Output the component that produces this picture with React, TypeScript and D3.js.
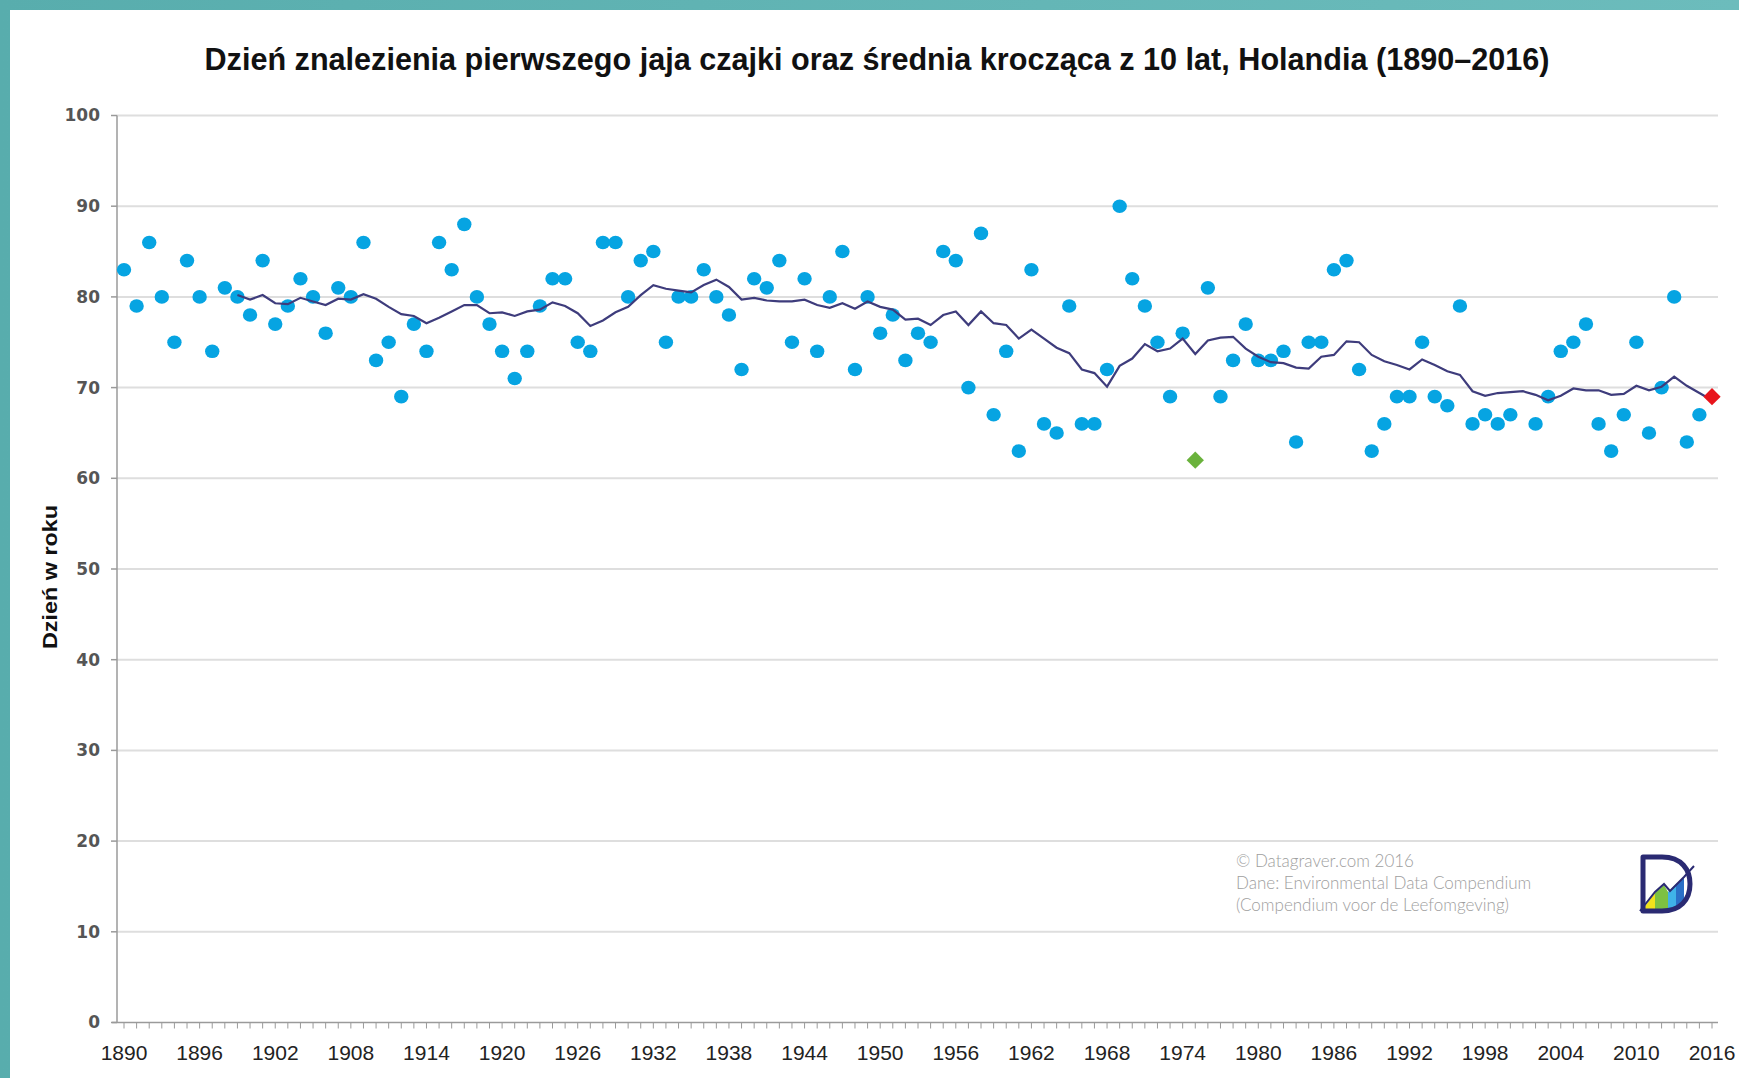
import React from "react";
import * as d3 from "d3";

const TITLE = "Dzień znalezienia pierwszego jaja czajki oraz średnia krocząca z 10 lat, Holandia (1890–2016)";
const Y_LABEL = "Dzień w roku";
const CREDITS = [
  "© Datagraver.com 2016",
  "Dane: Environmental Data Compendium",
  "(Compendium voor de Leefomgeving)",
];

const FIRST_YEAR = 1890;
// Day of year when first lapwing egg was found, 1890..2016 (null = no record)
const eggDay: (number | null)[] = [
  83, 79, 86, 80, 75, 84, 80, 74, 81, 80, // 1890-1899
  78, 84, 77, 79, 82, 80, 76, 81, 80, 86, // 1900-1909
  73, 75, 69, 77, 74, 86, 83, 88, 80, 77, // 1910-1919
  74, 71, 74, 79, 82, 82, 75, 74, 86, 86, // 1920-1929
  80, 84, 85, 75, 80, 80, 83, 80, 78, 72, // 1930-1939
  82, 81, 84, 75, 82, 74, 80, 85, 72, 80, // 1940-1949
  76, 78, 73, 76, 75, 85, 84, 70, 87, 67, // 1950-1959
  74, 63, 83, 66, 65, 79, 66, 66, 72, 90, // 1960-1969
  82, 79, 75, 69, 76, 62, 81, 69, 73, 77, // 1970-1979
  73, 73, 74, 64, 75, 75, 83, 84, 72, 63, // 1980-1989
  66, 69, 69, 75, 69, 68, 79, 66, 67, 66, // 1990-1999
  67, null, 66, 69, 74, 75, 77, 66, 63, 67, // 2000-2009
  75, 65, 70, 80, 64, 67, 69, // 2010-2016
];
const EARLIEST_YEAR = 1975; // green diamond
const LATEST_YEAR = 2016; // red diamond

const AVG_FIRST_YEAR = 1899;
// 10-year moving average, 1899..2016
const movingAvg: number[] = [
  80.2,
  79.7, 80.2, 79.3, 79.2, 79.9, 79.5, 79.1, 79.8, 79.7, 80.3,
  79.8, 78.9, 78.1, 77.9, 77.1, 77.7, 78.4, 79.1, 79.1, 78.2,
  78.3, 77.9, 78.4, 78.6, 79.4, 79.0, 78.2, 76.8, 77.4, 78.3,
  78.9, 80.2, 81.3, 80.9, 80.7, 80.5, 81.3, 81.9, 81.1, 79.7,
  79.9, 79.6, 79.5, 79.5, 79.7, 79.1, 78.8, 79.3, 78.7, 79.5,
  78.9, 78.6, 77.5, 77.6, 76.9, 78.0, 78.4, 76.9, 78.4, 77.1,
  76.9, 75.4, 76.4, 75.4, 74.4, 73.8, 72.0, 71.6, 70.1, 72.4,
  73.2, 74.8, 74.0, 74.3, 75.4, 73.7, 75.2, 75.5, 75.6, 74.3,
  73.4, 72.8, 72.7, 72.2, 72.1, 73.4, 73.6, 75.1, 75.0, 73.6,
  72.9, 72.5, 72.0, 73.1, 72.5, 71.8, 71.4, 69.6, 69.1, 69.4,
  69.5, 69.6, 69.2, 68.6, 69.1, 69.9, 69.7, 69.7, 69.2, 69.3,
  70.2, 69.7, 70.1, 71.2, 70.2, 69.4, 68.6,
];

const yTicks = [0, 10, 20, 30, 40, 50, 60, 70, 80, 90, 100];
const xTickLabels = [1890, 1896, 1902, 1908, 1914, 1920, 1926, 1932, 1938, 1944, 1950, 1956, 1962, 1968, 1974, 1980, 1986, 1992, 1998, 2004, 2010, 2016];

const W = 1739;
const H = 1078;

export default function App() {
  const x = d3.scaleLinear().domain([1890, 2016]).range([124, 1712]);
  const y = d3.scaleLinear().domain([0, 100]).range([1022.5, 115.5]);
  const axisX = 117;
  const plotRight = 1718;

  const points = eggDay
    .map((v, i) => ({ year: FIRST_YEAR + i, v }))
    .filter((d) => d.v !== null) as { year: number; v: number }[];
  const circles = points.filter((d) => d.year !== EARLIEST_YEAR && d.year !== LATEST_YEAR);
  const specials = points.filter((d) => d.year === EARLIEST_YEAR || d.year === LATEST_YEAR);

  const avgData = movingAvg.map((v, i) => ({ year: AVG_FIRST_YEAR + i, v }));
  const line = d3
    .line<{ year: number; v: number }>()
    .x((d) => x(d.year))
    .y((d) => y(d.v));

  const minorYears = d3.range(1890, 2017);
  const diamond = d3.symbol().type(d3.symbolSquare).size(150)();

  return (
    <svg
      width={W}
      height={H}
      style={{ position: "absolute", left: 0, top: 0, display: "block" }}
    >
      <defs>
        <linearGradient id="frame" x1="0" x2="1" y1="0" y2="0">
          <stop offset="0" stopColor="#58adad" />
          <stop offset="1" stopColor="#6cbcbc" />
        </linearGradient>
      </defs>
      <rect x={0} y={0} width={W} height={H} fill="url(#frame)" />
      <rect x={10} y={10} width={W - 10} height={H - 10} fill="#ffffff" />

      {/* Title */}
      <text
        x={877}
        y={70}
        textAnchor="middle"
        fontFamily="'Liberation Sans Narrow', 'Liberation Sans', Arial, sans-serif"
        fontWeight="bold"
        fontSize={32}
        fill="#111"
        textLength={1345}
        lengthAdjust="spacingAndGlyphs"
      >
        {TITLE}
      </text>

      {/* Gridlines */}
      {yTicks.filter((t) => t > 0).map((t) => (
        <line
          key={"g" + t}
          x1={axisX}
          x2={plotRight}
          y1={y(t)}
          y2={y(t)}
          stroke="#dedede"
          strokeWidth={2}
        />
      ))}

      {/* Y axis */}
      <line x1={axisX} x2={axisX} y1={y(100)} y2={y(0)} stroke="#9a9a9a" strokeWidth={1.5} />
      {yTicks.map((t) => (
        <g key={"yt" + t}>
          <line x1={axisX - 6} x2={axisX} y1={y(t)} y2={y(t)} stroke="#9a9a9a" strokeWidth={1.5} />
          <text
            x={100}
            y={y(t)}
            dy="0.35em"
            textAnchor="end"
            fontFamily="'DejaVu Sans', Verdana, sans-serif"
            fontSize={17}
            fontWeight={600}
            fill="#555"
          >
            {t}
          </text>
        </g>
      ))}

      {/* X axis */}
      <line x1={112} x2={plotRight} y1={y(0)} y2={y(0)} stroke="#9a9a9a" strokeWidth={1.5} />
      {minorYears.map((yr) => (
        <line
          key={"xt" + yr}
          x1={x(yr)}
          x2={x(yr)}
          y1={y(0)}
          y2={y(0) + 6}
          stroke="#9a9a9a"
          strokeWidth={1}
        />
      ))}
      {xTickLabels.map((yr) => (
        <text
          key={"xl" + yr}
          x={x(yr)}
          y={1060}
          textAnchor="middle"
          fontFamily="'Liberation Sans Narrow', 'Liberation Sans', Arial, sans-serif"
          fontSize={21}
          fill="#222"
        >
          {yr}
        </text>
      ))}

      {/* Y label */}
      <text
        transform={`translate(57,577) rotate(-90)`}
        textAnchor="middle"
        fontFamily="'Liberation Sans Narrow', 'Liberation Sans', Arial, sans-serif"
        fontWeight="bold"
        fontSize={20}
        fill="#111"
        textLength={144}
        lengthAdjust="spacingAndGlyphs"
      >
        {Y_LABEL}
      </text>

      {/* Dots */}
      {circles.map((d) => (
        <ellipse key={"c" + d.year} cx={x(d.year)} cy={y(d.v)} rx={7.2} ry={6.8} fill="#06a4e2" />
      ))}

      {/* Moving average line */}
      <path d={line(avgData) || ""} fill="none" stroke="#3e3c7c" strokeWidth={2.2} />

      {/* Special diamonds */}
      {specials.map((d) => (
        <path
          key={"s" + d.year}
          d={diamond || ""}
          transform={`translate(${x(d.year)},${y(d.v)}) rotate(45)`}
          fill={d.year === EARLIEST_YEAR ? "#6ab23c" : "#e8141c"}
        />
      ))}

      {/* Credits */}
      {CREDITS.map((c, i) => (
        <text
          key={"cr" + i}
          x={1236}
          y={867 + i * 22}
          fontFamily="Lato, 'Open Sans', sans-serif"
          fontWeight={300}
          fontSize={17}
          fill="#9e9e9e"
        >
          {c}
        </text>
      ))}

      {/* Logo */}
      <g>
        <path d="M1642,910 L1655,893 L1655,910 Z" fill="#f2e21c" />
        <path d="M1655,893 L1664,885 L1668,892 L1668,910 L1655,910 Z" fill="#7dc142" />
        <path d="M1668,892 L1676,884 L1676,910 L1668,910 Z" fill="#3fb2e8" />
        <path d="M1676,884 L1684,878 L1684,905 L1676,910 Z" fill="#2a6fc7" />
        <path
          d="M1643,857 L1662,857 C1682,857 1690,870 1690,884 C1690,900 1680,911 1662,911 L1643,911 Z"
          fill="none"
          stroke="#2a2a72"
          strokeWidth={5}
          strokeLinejoin="round"
        />
        <path d="M1640,911 L1655,892 L1664,884 L1670,891 L1684,877 L1694,866" fill="none" stroke="#2a2a72" strokeWidth={2} />
      </g>
    </svg>
  );
}
